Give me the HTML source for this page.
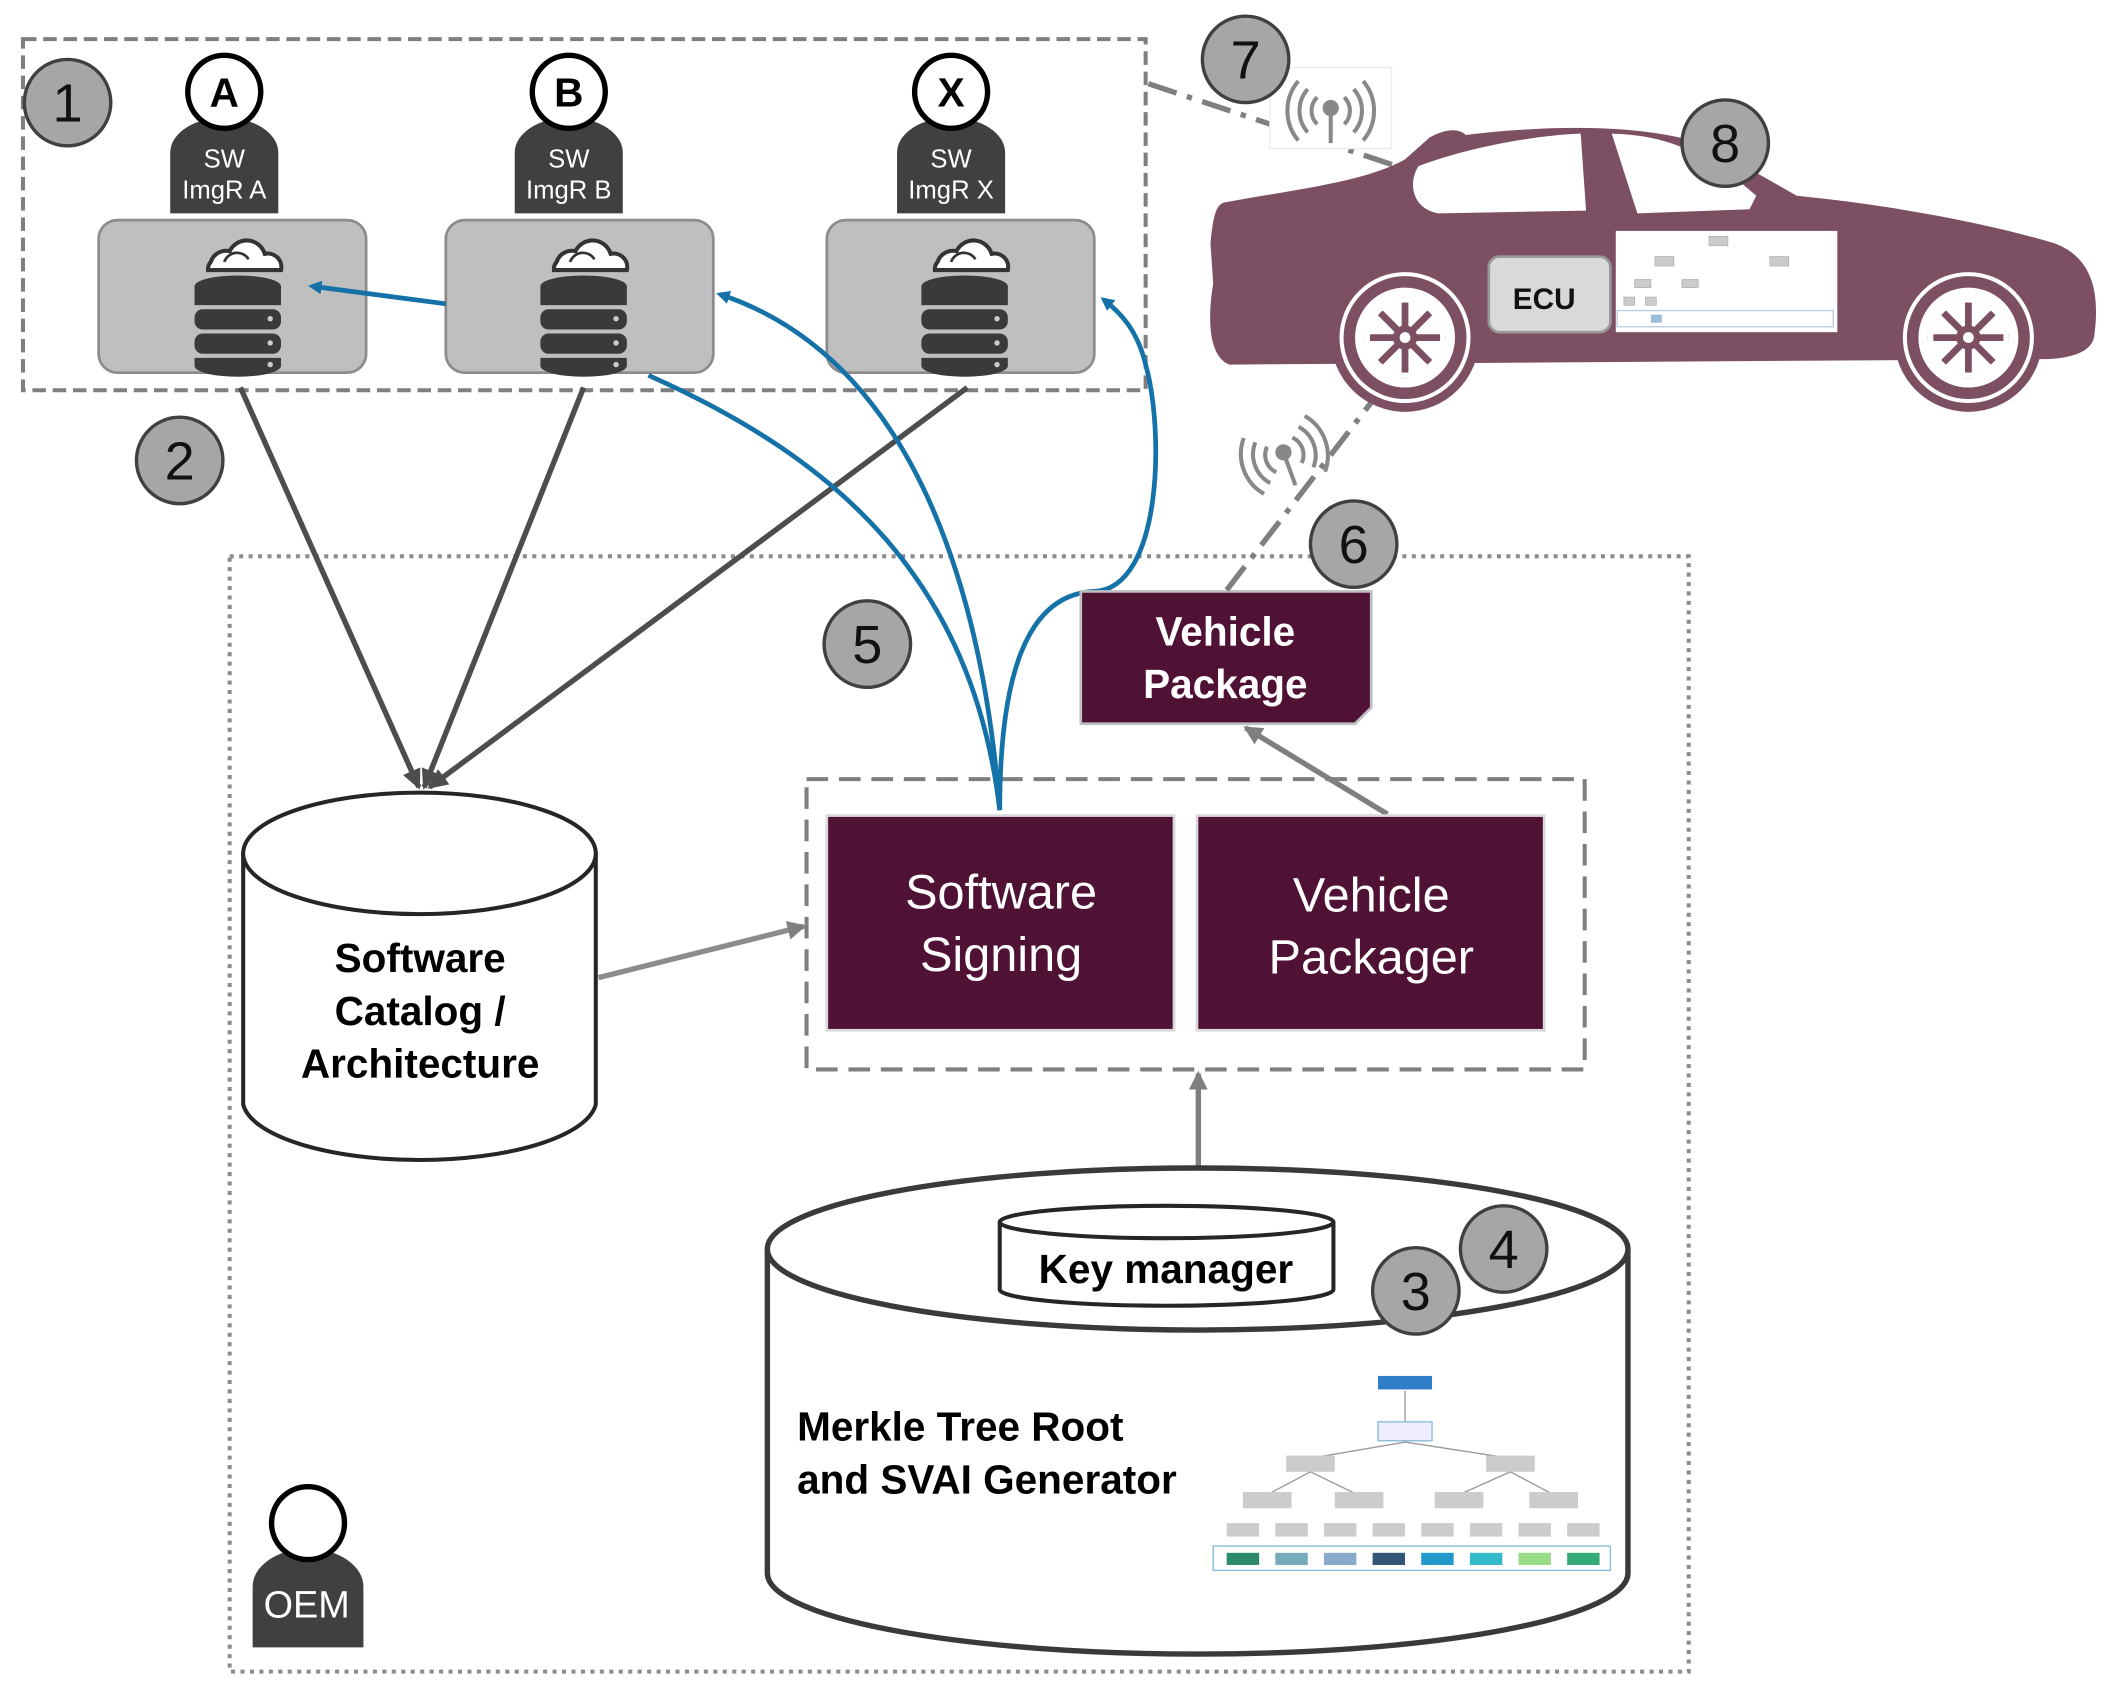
<!DOCTYPE html>
<html><head><meta charset="utf-8"><style>
html,body{margin:0;padding:0;background:#fff;}
svg{display:block;}
text{font-family:"Liberation Sans",Arial,sans-serif;}
</style></head><body>
<svg width="2117" height="1700" viewBox="0 0 1567 1259" preserveAspectRatio="none" xmlns="http://www.w3.org/2000/svg">
<defs>
<marker id="ab" markerWidth="10" markerHeight="10" refX="7" refY="5" orient="auto" markerUnits="userSpaceOnUse"><path d="M0,0 L10,5 L0,10 Z" fill="#1472a8"/></marker>
<marker id="ag" markerWidth="16" markerHeight="16" refX="12" refY="8" orient="auto" markerUnits="userSpaceOnUse"><path d="M0,1 L14,8 L0,15 Z" fill="#7f7f7f"/></marker>
<marker id="ad" markerWidth="18" markerHeight="18" refX="13" refY="9" orient="auto" markerUnits="userSpaceOnUse"><path d="M0,2 L15,9 L0,16 Z" fill="#4d4d4d"/></marker>
<g id="db">
<path d="M-20,-36 a12,12 0 0 1 14,-8 a14,14 0 0 1 26,2 a10,10 0 0 1 12,12 h-54 a8,8 0 0 1 2,-6z" fill="#fff" stroke="#333" stroke-width="3"/>
<path d="M-10,-36 a10,10 0 0 1 18,-2" fill="none" stroke="#333" stroke-width="2"/>
<ellipse cx="0" cy="-18" rx="32" ry="8" fill="#3a3a3a"/>
<rect x="-32" y="-18" width="64" height="14" fill="#3a3a3a"/>
<rect x="-32" y="-1" width="64" height="15" rx="6" fill="#3a3a3a"/>
<rect x="-32" y="17" width="64" height="15" rx="6" fill="#3a3a3a"/>
<path d="M-32,35 h64 v6 a32,8 0 0 1 -64,0z" fill="#3a3a3a"/>
<circle cx="24" cy="6" r="2" fill="#ccc"/><circle cx="24" cy="24" r="2" fill="#ccc"/><circle cx="24" cy="40" r="2" fill="#ccc"/>
</g>
<g id="wheel">
<circle r="55" fill="#7d4f63"/>
<circle r="47" fill="none" stroke="#fff" stroke-width="3"/>
<circle r="37" fill="#fff"/>
<g stroke="#7d4f63" stroke-width="5">
<line x1="0" y1="-30" x2="0" y2="30"/><line x1="-30" y1="0" x2="30" y2="0"/>
<line x1="-21" y1="-21" x2="21" y2="21"/><line x1="-21" y1="21" x2="21" y2="-21"/>
</g>
<circle r="28" fill="none" stroke="#fff" stroke-width="4"/>
<circle r="9" fill="#7d4f63"/><circle r="4" fill="#fff"/>
</g>
<g id="wifi" fill="none" stroke="#888" stroke-width="3">
<path d="M-10,-8 a14,14 0 0 0 0,20"/><path d="M10,-8 a14,14 0 0 1 0,20"/>
<path d="M-17,-14 a24,24 0 0 0 0,32"/><path d="M17,-14 a24,24 0 0 1 0,32"/>
<path d="M-24,-20 a34,34 0 0 0 0,44"/><path d="M24,-20 a34,34 0 0 1 0,44"/>
<circle cx="0" cy="0" r="6" fill="#888" stroke="none"/><line x1="0" y1="0" x2="0" y2="26"/>
</g>
</defs>

<rect x="17" y="29" width="831" height="260" fill="none" stroke="#7f7f7f" stroke-width="3" stroke-dasharray="10,5"/>

<rect x="73" y="163" width="198" height="113" rx="14" fill="#bfbfbf" stroke="#8c8c8c" stroke-width="2"/>
<rect x="330" y="163" width="198" height="113" rx="14" fill="#bfbfbf" stroke="#8c8c8c" stroke-width="2"/>
<rect x="612" y="163" width="198" height="113" rx="14" fill="#bfbfbf" stroke="#8c8c8c" stroke-width="2"/>
<use href="#db" x="176" y="230"/>
<use href="#db" x="432" y="230"/>
<use href="#db" x="714" y="230"/>

<g>
<path d="M126,158 v-45 a40,26 0 0 1 80,0 v45z" fill="#404040"/>
<circle cx="166" cy="68" r="27" fill="#fff" stroke="#000" stroke-width="4"/>
<text x="166" y="79" font-size="30" font-weight="bold" text-anchor="middle">A</text>
<text x="166" y="124" font-size="19" fill="#fff" text-anchor="middle">SW</text>
<text x="166" y="147" font-size="19" fill="#fff" text-anchor="middle">ImgR A</text>
</g>
<g>
<path d="M381,158 v-45 a40,26 0 0 1 80,0 v45z" fill="#404040"/>
<circle cx="421" cy="68" r="27" fill="#fff" stroke="#000" stroke-width="4"/>
<text x="421" y="79" font-size="30" font-weight="bold" text-anchor="middle">B</text>
<text x="421" y="124" font-size="19" fill="#fff" text-anchor="middle">SW</text>
<text x="421" y="147" font-size="19" fill="#fff" text-anchor="middle">ImgR B</text>
</g>
<g>
<path d="M664,158 v-45 a40,26 0 0 1 80,0 v45z" fill="#404040"/>
<circle cx="704" cy="68" r="27" fill="#fff" stroke="#000" stroke-width="4"/>
<text x="704" y="79" font-size="30" font-weight="bold" text-anchor="middle">X</text>
<text x="704" y="124" font-size="19" fill="#fff" text-anchor="middle">SW</text>
<text x="704" y="147" font-size="19" fill="#fff" text-anchor="middle">ImgR X</text>
</g>

<rect x="170" y="412" width="1080" height="826" fill="none" stroke="#8c8c8c" stroke-width="3" stroke-dasharray="3,4"/>

<g stroke="#4d4d4d" stroke-width="4" fill="none">
<line x1="178" y1="287" x2="310" y2="583" marker-end="url(#ad)"/>
<line x1="432" y1="287" x2="314" y2="583" marker-end="url(#ad)"/>
<line x1="716" y1="287" x2="318" y2="583" marker-end="url(#ad)"/>
</g>

<path d="M180,632 v186 a131,45 0 0 0 261,0 v-186" fill="#fff" stroke="#262626" stroke-width="3"/>
<ellipse cx="310.5" cy="632" rx="130.5" ry="45" fill="#fff" stroke="#262626" stroke-width="3"/>
<text x="311" y="720" font-size="30" font-weight="bold" text-anchor="middle">Software</text>
<text x="311" y="759" font-size="30" font-weight="bold" text-anchor="middle">Catalog /</text>
<text x="311" y="798" font-size="30" font-weight="bold" text-anchor="middle">Architecture</text>

<line x1="443" y1="724" x2="595" y2="686" stroke="#8c8c8c" stroke-width="4" marker-end="url(#ag)"/>
<line x1="1027" y1="603" x2="922" y2="539" stroke="#7f7f7f" stroke-width="4" marker-end="url(#ag)"/>
<line x1="887" y1="865" x2="887" y2="795" stroke="#7f7f7f" stroke-width="4" marker-end="url(#ag)"/>

<rect x="597" y="577" width="576" height="215" fill="none" stroke="#7f7f7f" stroke-width="3" stroke-dasharray="16,8"/>
<rect x="612" y="604" width="257" height="159" fill="#4f1235" stroke="#d9d9d9" stroke-width="2"/>
<rect x="886" y="604" width="257" height="159" fill="#4f1235" stroke="#d9d9d9" stroke-width="2"/>
<text x="741" y="673" font-size="36" fill="#fff" text-anchor="middle">Software</text>
<text x="741" y="719" font-size="36" fill="#fff" text-anchor="middle">Signing</text>
<text x="1015" y="675" font-size="36" fill="#fff" text-anchor="middle">Vehicle</text>
<text x="1015" y="721" font-size="36" fill="#fff" text-anchor="middle">Packager</text>

<g stroke="#1472a8" stroke-width="3.5" fill="none">
<line x1="330" y1="225" x2="231" y2="212" marker-end="url(#ab)"/>
<path d="M480,278 C620,340 720,430 740,600"/>
<path d="M740,600 C730,470 690,270 533,218" marker-end="url(#ab)"/>
<path d="M740,600 C740,500 760,440 810,438 C860,436 862,320 848,270 C842,245 830,232 817,222" marker-end="url(#ab)"/>
</g>

<path d="M800,438 h215 v86 l-12,12 h-203z" fill="#4f1235" stroke="#bfbfbf" stroke-width="2"/>
<text x="907" y="478" font-size="30" font-weight="bold" fill="#fff" text-anchor="middle">Vehicle</text>
<text x="907" y="517" font-size="30" font-weight="bold" fill="#fff" text-anchor="middle">Package</text>

<line x1="908" y1="437" x2="1025" y2="285" stroke="#7f7f7f" stroke-width="4" stroke-dasharray="22,8,4,8" marker-end="url(#ag)"/>
<line x1="850" y1="62" x2="1100" y2="145" stroke="#7f7f7f" stroke-width="4" stroke-dasharray="22,8,4,8" marker-end="url(#ag)"/>

<path d="M906,150 C960,140 1010,135 1040,118 L1058,102 C1070,95 1080,95 1085,100 C1150,92 1220,92 1265,108 L1330,145 C1400,152 1470,165 1520,180 C1548,190 1555,215 1550,250 C1547,262 1530,266 1510,266 L910,270 C896,265 893,240 898,210 L896,180 C898,160 900,152 906,150 Z" fill="#7d4f63"/>
<path d="M1050,123 C1090,108 1140,100 1170,99 L1174,156 L1065,158 C1045,155 1042,135 1050,123 Z" fill="#fff"/>
<path d="M1193,99 C1230,100 1260,110 1300,145 L1295,155 L1212,158 Z" fill="#fff"/>
<use href="#wheel" x="1040" y="250"/>
<use href="#wheel" x="1457" y="250"/>
<rect x="1102" y="190" width="90" height="56" rx="8" fill="#d9d9d9" stroke="#999" stroke-width="2"/>
<text x="1143" y="229" font-size="22" font-weight="bold" fill="#111" text-anchor="middle">ECU</text>
<rect x="1196" y="171" width="164" height="75" fill="#fff"/>
<g fill="#ccc" stroke="#aaa" stroke-width="0.5">
<rect x="1265" y="175" width="14" height="7"/><rect x="1225" y="190" width="14" height="7"/><rect x="1310" y="190" width="14" height="7"/>
<rect x="1210" y="207" width="12" height="6"/><rect x="1245" y="207" width="12" height="6"/><rect x="1202" y="220" width="8" height="6"/><rect x="1218" y="220" width="8" height="6"/>
</g>
<rect x="1197" y="230" width="160" height="12" fill="none" stroke="#bcd" stroke-width="1"/>
<rect x="1222" y="233" width="8" height="6" fill="#9bd"/>

<rect x="940" y="50" width="90" height="60" fill="#fff" stroke="#eee"/>
<use href="#wifi" x="985" y="80"/>
<g transform="translate(950,335) rotate(-20)"><use href="#wifi"/></g>

<path d="M568,925 v240 a318.5,60 0 0 0 637,0 v-240" fill="#fff" stroke="#3a3a3a" stroke-width="4"/>
<ellipse cx="886.5" cy="925" rx="318.5" ry="60" fill="#fff" stroke="#3a3a3a" stroke-width="4"/>
<path d="M740,905 v50 a123.5,12 0 0 0 247,0 v-50" fill="#fff" stroke="#262626" stroke-width="3"/>
<ellipse cx="863.5" cy="905" rx="123.5" ry="12" fill="#fff" stroke="#262626" stroke-width="3"/>
<text x="863" y="950" font-size="30" font-weight="bold" text-anchor="middle">Key manager</text>
<text x="590" y="1067" font-size="30" font-weight="bold">Merkle Tree Root</text>
<text x="590" y="1106" font-size="30" font-weight="bold">and SVAI Generator</text>
<g stroke="#999" stroke-width="1" fill="none">
<line x1="1040" y1="1030" x2="1040" y2="1055"/>
<line x1="1040" y1="1068" x2="970" y2="1080"/><line x1="1040" y1="1068" x2="1118" y2="1080"/>
<line x1="970" y1="1090" x2="938" y2="1107"/><line x1="970" y1="1090" x2="1005" y2="1107"/>
<line x1="1118" y1="1090" x2="1080" y2="1107"/><line x1="1118" y1="1090" x2="1150" y2="1107"/>
</g>
<rect x="1020" y="1019" width="40" height="10" fill="#2e7fc8"/>
<rect x="1020" y="1053" width="40" height="14" fill="#eef" stroke="#8bd"/>
<g fill="#ccc">
<rect x="952" y="1078" width="36" height="12"/><rect x="1100" y="1078" width="36" height="12"/>
<rect x="920" y="1105" width="36" height="12"/><rect x="988" y="1105" width="36" height="12"/><rect x="1062" y="1105" width="36" height="12"/><rect x="1132" y="1105" width="36" height="12"/>
<rect x="908" y="1128" width="24" height="10"/><rect x="944" y="1128" width="24" height="10"/><rect x="980" y="1128" width="24" height="10"/><rect x="1016" y="1128" width="24" height="10"/><rect x="1052" y="1128" width="24" height="10"/><rect x="1088" y="1128" width="24" height="10"/><rect x="1124" y="1128" width="24" height="10"/><rect x="1160" y="1128" width="24" height="10"/>
</g>
<rect x="898" y="1145" width="294" height="18" fill="none" stroke="#8bd"/>
<rect x="908" y="1150" width="24" height="9" fill="#2a8a6a"/><rect x="944" y="1150" width="24" height="9" fill="#7ab"/><rect x="980" y="1150" width="24" height="9" fill="#8ac"/><rect x="1016" y="1150" width="24" height="9" fill="#357"/><rect x="1052" y="1150" width="24" height="9" fill="#29c"/><rect x="1088" y="1150" width="24" height="9" fill="#3bc"/><rect x="1124" y="1150" width="24" height="9" fill="#9d8"/><rect x="1160" y="1150" width="24" height="9" fill="#3a7"/>

<path d="M187,1220 v-45 a41,28 0 0 1 82,0 v45z" fill="#404040"/>
<circle cx="228" cy="1128" r="27" fill="#fff" stroke="#000" stroke-width="4"/>
<text x="227" y="1198" font-size="28" fill="#fff" text-anchor="middle">OEM</text>

<g fill="#a6a6a6" stroke="#404040" stroke-width="2.5">
<circle cx="50" cy="76" r="32"/><circle cx="133" cy="341" r="32"/><circle cx="642" cy="477" r="32"/>
<circle cx="1002" cy="403" r="32"/><circle cx="922" cy="44" r="32"/><circle cx="1277" cy="106" r="32"/>
<circle cx="1113" cy="925" r="32"/><circle cx="1048" cy="956" r="32"/>
</g>
<g font-size="40" text-anchor="middle" fill="#111">
<text x="50" y="90">1</text><text x="133" y="355">2</text><text x="642" y="491">5</text>
<text x="1002" y="417">6</text><text x="922" y="58">7</text><text x="1277" y="120">8</text>
<text x="1113" y="939">4</text><text x="1048" y="970">3</text>
</g>
</svg>
</body></html>
